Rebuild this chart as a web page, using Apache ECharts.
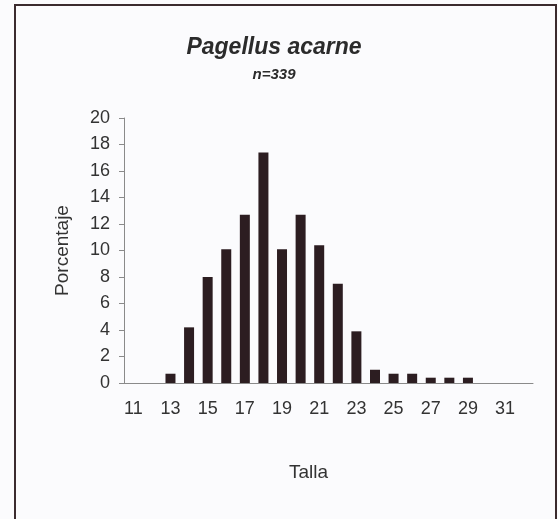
<!DOCTYPE html>
<html>
<head>
<meta charset="utf-8">
<script src="https://cdn.jsdelivr.net/npm/echarts@6/dist/echarts.min.js"></script>
<style>
html, body { margin: 0; padding: 0; background: #fbfbfd; }
#main { width: 558px; height: 519px; }
</style>
</head>
<body>
<div id="main"></div>
<script>
var chart = echarts.init(document.getElementById('main'));

// tallas (cm)
var tallas = ['11', '12', '13', '14', '15', '16', '17', '18', '19', '20', '21',
	'22', '23', '24', '25', '26', '27', '28', '29', '30', '31', '32'];
// porcentaje por talla
var porcentaje = [0, 0, 0.7, 4.2, 8.0, 10.1, 12.7, 17.4, 10.1, 12.7, 10.4,
	7.5, 3.9, 1.0, 0.7, 0.7, 0.4, 0.4, 0.4, 0, 0, 0];

var fontFam = '"Liberation Sans", Arial, sans-serif';

var option = {
	backgroundColor: '#fbfbfd',
	title: {
		text: 'Pagellus acarne',
		subtext: 'n=339',
		left: 269,
		top: 31,
		textAlign: 'center',
		itemGap: 8,
		textStyle: {
			fontFamily: fontFam,
			fontSize: 23,
			fontStyle: 'italic',
			fontWeight: 'bold',
			color: '#2b2b2b'
		},
		subtextStyle: {
			fontFamily: fontFam,
			fontSize: 15,
			fontStyle: 'italic',
			fontWeight: 'bold',
			color: '#2b2b2b'
		}
	},
	graphic: [{
		type: 'rect',
		shape: { x: 15, y: 5, width: 541, height: 530 },
		style: { fill: 'none', stroke: '#3b2b2e', lineWidth: 2 }
	}],
	grid: {
		left: 124,
		right: 25,
		top: 118,
		bottom: 136
	},
	xAxis: {
		type: 'category',
		data: tallas,
		name: 'Talla',
		nameLocation: 'middle',
		nameGap: 80,
		nameTextStyle: {
			fontFamily: fontFam,
			fontSize: 19,
			color: '#333',
			padding: [0, 40, 0, 0]
		},
		axisLine: { lineStyle: { color: '#8a8a8a' } },
		axisTick: { interval: 0, length: 5, lineStyle: { color: '#8a8a8a' } },
		axisLabel: {
			interval: 1,
			margin: 17,
			fontFamily: fontFam,
			fontSize: 18,
			color: '#333'
		}
	},
	yAxis: {
		type: 'value',
		min: 0,
		max: 20,
		interval: 2,
		name: 'Porcentaje',
		nameLocation: 'middle',
		nameGap: 52,
		nameTextStyle: {
			fontFamily: fontFam,
			fontSize: 19,
			color: '#333'
		},
		splitLine: { show: false },
		axisLine: { show: true, lineStyle: { color: '#8a8a8a' } },
		axisTick: { show: true, length: 5, lineStyle: { color: '#8a8a8a' } },
		axisLabel: {
			margin: 14,
			fontFamily: fontFam,
			fontSize: 18,
			color: '#333'
		}
	},
	series: [{
		type: 'bar',
		data: porcentaje,
		barWidth: 10,
		itemStyle: { color: '#2c1d21' }
	}]
};

chart.setOption(option);
</script>
</body>
</html>
